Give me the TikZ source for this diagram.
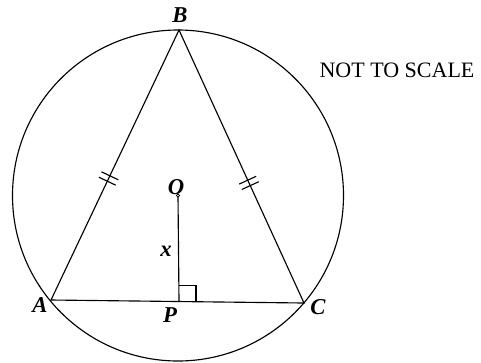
\documentclass[tikz,border=0pt]{standalone}
\usepackage{fontspec}
\setmainfont{Liberation Serif}
\usetikzlibrary{calc}

\begin{document}
\begin{tikzpicture}[x=0.75pt,y=-0.75pt,line width=0.85pt,
  lbl/.style={font=\fontsize{17}{19}\selectfont\bfseries\itshape,inner sep=1pt}]
  \useasboundingbox (0,0) rectangle (481,362);

  \coordinate (O) at (178,195.5);
  \coordinate (B) at (179,30);
  \coordinate (A) at (51,300);
  \coordinate (C) at (304,303);
  \coordinate (P) at (179,301.5);

  \draw (O) circle (165.5);
  \draw (A)--(B)--(C)--cycle;
  \draw (O)--(P);
  \draw (P) ++(0,-16) -- ++(17,0) -- ++(0,16);
  \filldraw[fill=white,line width=0.6pt] (O) circle (1.6);

  % equal sides
  \foreach \t in {0.44,0.46}
    \draw ($($(A)!\t!(B)$)!7pt!90:(B)$) -- ($($(A)!\t!(B)$)!7pt!-90:(B)$);
  \foreach \t in {0.43,0.45}
    \draw ($($(C)!\t!(B)$)!7pt!90:(B)$) -- ($($(C)!\t!(B)$)!7pt!-90:(B)$);

  \node[lbl] (lB) at (180,15) {B};
  \node[lbl] (lO) at (176,187) {O};
  \node[lbl] (lx) at (166,251) {x};
  \node[lbl] (lA) at (40,305) {A};
  \node[lbl] (lP) at (170,315) {P};
  \node[lbl] (lC) at (318,307) {C};
  \node[font=\fontsize{16.5}{18}\selectfont] (note) at (397,70) {NOT TO SCALE};
\end{tikzpicture}
\end{document}
